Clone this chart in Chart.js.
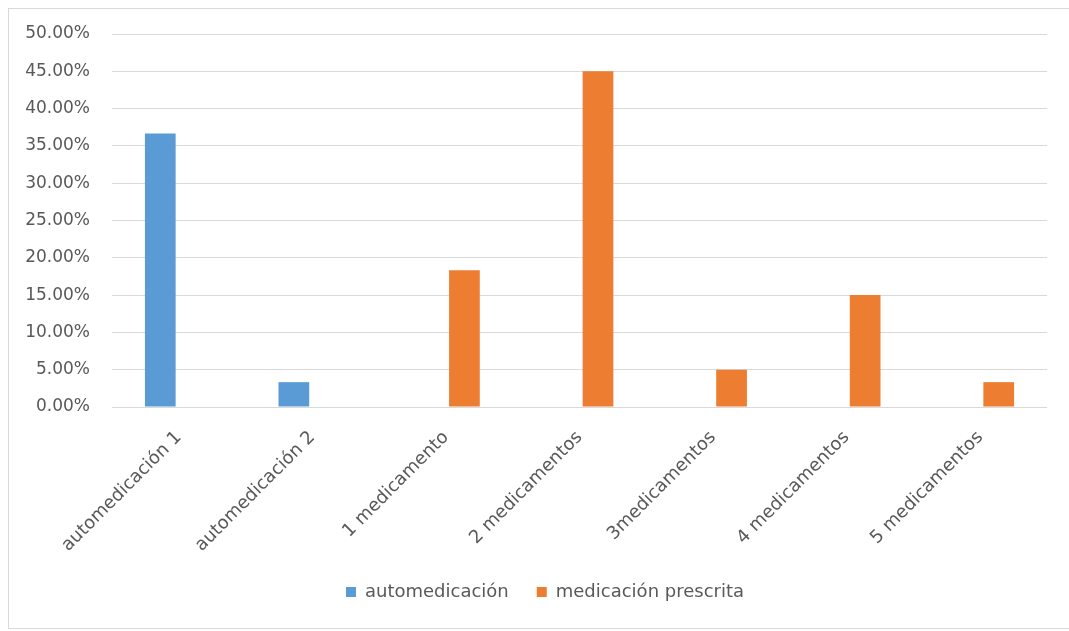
<!DOCTYPE html>
<html>
<head>
<meta charset="utf-8">
<script src="https://cdn.jsdelivr.net/npm/chart.js@4"></script>
<style>
    html, body { margin: 0; padding: 0; background: #fff; overflow: hidden; width: 1069px; height: 631px; }
    #frame {
        position: absolute; left: 8px; top: 8px;
        width: 1060px; height: 619px;
        border-top: 1px solid #d9d9d9;
        border-left: 1px solid #d9d9d9;
        border-bottom: 1px solid #d9d9d9;
    }
    #chart { position: absolute; left: 0; top: 0; }
</style>
</head>
<body>
<div id="frame"><canvas id="chart" width="1072" height="619"></canvas></div>
<script>
// categorías del eje x
const categories = [
    "automedicación 1", "automedicación 2", "1 medicamento", "2 medicamentos",
    "3medicamentos", "4 medicamentos", "5 medicamentos"
];

// valores en porcentaje
const automedicacion = [36.67, 3.33, null, null, null, null, null];
const medicacionPrescrita = [null, null, 18.33, 45.00, 5.00, 15.00, 3.33];

const yMin = 0;
const yMax = 50;
const yStep = 5;

const textColor = "#595959";
const gridColor = "#d9d9d9";

const ctx = document.getElementById("chart").getContext("2d");
new Chart(ctx, {
    type: "bar",
    data: {
        labels: categories,
        datasets: [{
            label: "automedicación",
            data: automedicacion,
            backgroundColor: "#5b9bd5",
            borderWidth: 0
        }, {
            label: "medicación prescrita",
            data: medicacionPrescrita,
            backgroundColor: "#ed7d31",
            borderWidth: 0
        }]
    },
    options: {
        responsive: false,
        animation: false,
        categoryPercentage: 0.554,
        barPercentage: 0.83,
        layout: {padding: {left: 0, right: 0, top: 25, bottom: 17}},
        plugins: {
            tooltip: {enabled: false},
            legend: {
                position: "bottom",
                labels: {
                    boxWidth: 10,
                    boxHeight: 10,
                    padding: 28,
                    color: textColor,
                    font: {family: "DejaVu Sans", size: 18}
                }
            }
        },
        scales: {
            x: {
                grid: {display: false, drawTicks: false},
                border: {display: false},
                ticks: {
                    autoSkip: false,
                    minRotation: 45,
                    maxRotation: 45,
                    padding: 20,
                    color: textColor,
                    font: {family: "DejaVu Sans", size: 18}
                },
                afterFit(scale) { scale.height = 148; }
            },
            y: {
                min: yMin,
                max: yMax,
                grid: {
                    color: gridColor,
                    lineWidth: 1,
                    drawTicks: true,
                    tickLength: 18,
                    tickColor: "rgba(0,0,0,0)"
                },
                border: {display: false},
                ticks: {
                    stepSize: yStep,
                    padding: 4,
                    color: textColor,
                    font: {family: "DejaVu Sans", size: 17},
                    callback: v => v.toFixed(2) + "%"
                },
                afterFit(scale) { scale.width = 103; }
            },
            // eje vacío a la derecha, solo reserva espacio
            yRight: {
                position: "right",
                display: true,
                grid: {display: false, drawTicks: false},
                border: {display: false},
                ticks: {display: false},
                afterFit(scale) { scale.width = 34; }
            }
        }
    }
});
</script>
</body>
</html>
